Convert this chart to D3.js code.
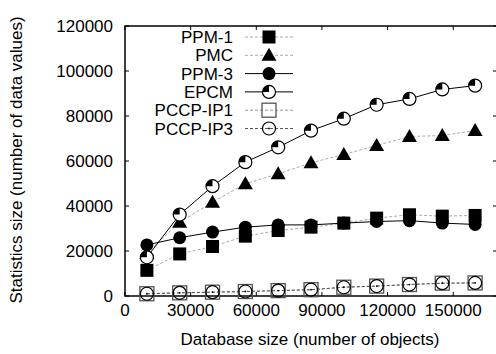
<!DOCTYPE html>
<html>
<head>
<meta charset="utf-8">
<script src="https://cdn.jsdelivr.net/npm/d3@7"></script>
<style>
  body { margin: 0; background: #fff; }
  text { font-family: "Liberation Sans", Arial, sans-serif; }
</style>
</head>
<body>
<div class="chart-container"></div>
<script>
const width = 496;
const height = 354;
const margin = { top: 26, right: -1, bottom: 58, left: 125 };

// database sizes (number of objects)
const dbSizes = [10000, 25000, 40000, 55000, 70000, 85000, 100000, 115000, 130000, 145000, 160000];

const ppm1 = [11400, 18700, 22000, 26600, 29100, 30600, 32400, 34600, 36100, 35500, 35800];
const pmc = [19000, 32800, 41700, 49900, 54300, 59200, 62900, 66900, 70900, 71300, 73600];
const ppm3 = [22700, 25900, 28400, 30600, 31600, 31600, 32400, 33100, 33500, 32400, 31800];
const epcm = [17200, 36200, 48800, 59500, 66100, 73500, 78800, 85000, 87600, 91800, 93500];
const pccpIp1 = [1000, 1400, 1700, 2000, 2400, 2800, 3900, 4400, 5100, 5700, 5800];
const pccpIp3 = [1000, 1400, 1700, 2000, 2400, 2800, 3900, 4400, 5100, 5700, 5800];

const xTicks = [0, 30000, 60000, 90000, 120000, 150000];
const yTicks = [0, 20000, 40000, 60000, 80000, 100000, 120000];

const series = [
    { name: "PPM-1", values: ppm1, marker: "square", line: "#aaa", dash: "3,2" },
    { name: "PMC", values: pmc, marker: "triangle", line: "#aaa", dash: "3,2" },
    { name: "PPM-3", values: ppm3, marker: "circle", line: "#000", dash: null },
    { name: "EPCM", values: epcm, marker: "quarter", line: "#000", dash: null },
    { name: "PCCP-IP1", values: pccpIp1, marker: "opensquare", line: "#999", dash: "3,2" },
    { name: "PCCP-IP3", values: pccpIp3, marker: "dotcircle", line: "#555", dash: "3,2" },
];

const svg = d3.select(".chart-container")
    .append("svg")
    .attr("width", width)
    .attr("height", height);

const escalaX = d3.scaleLinear()
    .domain([0, 170000])
    .range([margin.left, width - margin.right]);

const escalaY = d3.scaleLinear()
    .domain([0, 120000])
    .range([height - margin.bottom, margin.top]);

const x0 = escalaX.range()[0], x1 = escalaX.range()[1];
const y0 = escalaY.range()[0], y1 = escalaY.range()[1];

// ticks (inward, mirrored)
const ticks = svg.append("g").attr("stroke", "#000").attr("stroke-width", 1);
xTicks.forEach(t => {
    ticks.append("line").attr("x1", escalaX(t)).attr("x2", escalaX(t)).attr("y1", y0).attr("y2", y0 - 4);
    ticks.append("line").attr("x1", escalaX(t)).attr("x2", escalaX(t)).attr("y1", y1).attr("y2", y1 + 4);
});
yTicks.forEach(t => {
    ticks.append("line").attr("x1", x0).attr("x2", x0 + 4).attr("y1", escalaY(t)).attr("y2", escalaY(t));
    ticks.append("line").attr("x1", x1).attr("x2", x1 - 4).attr("y1", escalaY(t)).attr("y2", escalaY(t));
});

// box
svg.append("rect")
    .attr("x", x0).attr("y", y1)
    .attr("width", x1 - x0).attr("height", y0 - y1)
    .attr("fill", "none").attr("stroke", "#000").attr("stroke-width", 1.5);

// tick labels
svg.append("g").selectAll("text")
    .data(xTicks)
    .join("text")
    .attr("x", d => escalaX(d))
    .attr("y", 316)
    .attr("text-anchor", "middle")
    .attr("font-size", 17)
    .text(d => d);

svg.append("g").selectAll("text")
    .data(yTicks)
    .join("text")
    .attr("x", 113)
    .attr("y", d => escalaY(d) + 6)
    .attr("text-anchor", "end")
    .attr("font-size", 17)
    .text(d => d);

svg.append("text")
    .attr("x", 310).attr("y", 345)
    .attr("text-anchor", "middle")
    .attr("font-size", 17)
    .text("Database size (number of objects)");

svg.append("text")
    .attr("transform", "translate(22,160) rotate(-90)")
    .attr("text-anchor", "middle")
    .attr("font-size", 17)
    .text("Statistics size (number of data values)");

function drawMarker(g, type, cx, cy) {
    const r = 6.5;
    if (type === "square") {
        g.append("rect").attr("x", cx - 6.5).attr("y", cy - 6.5).attr("width", 13).attr("height", 13).attr("fill", "#000");
    } else if (type === "triangle") {
        g.append("path").attr("d", `M${cx},${cy - 7.5}L${cx + 7.5},${cy + 5.5}L${cx - 7.5},${cy + 5.5}Z`).attr("fill", "#000");
    } else if (type === "circle") {
        g.append("circle").attr("cx", cx).attr("cy", cy).attr("r", r).attr("fill", "#000");
    } else if (type === "quarter") {
        g.append("circle").attr("cx", cx).attr("cy", cy).attr("r", r).attr("fill", "#fff").attr("stroke", "#000").attr("stroke-width", 1.2);
        g.append("path").attr("d", `M${cx},${cy}L${cx - r},${cy}A${r},${r} 0 0 1 ${cx},${cy - r}Z`).attr("fill", "#000");
    } else if (type === "opensquare") {
        g.append("rect").attr("x", cx - 7).attr("y", cy - 7).attr("width", 14).attr("height", 14).attr("fill", "none").attr("stroke", "#555").attr("stroke-width", 1.3);
    } else if (type === "dotcircle") {
        g.append("circle").attr("cx", cx).attr("cy", cy).attr("r", r).attr("fill", "none").attr("stroke", "#000").attr("stroke-width", 1.2);
        g.append("circle").attr("cx", cx).attr("cy", cy).attr("r", 0.9).attr("fill", "#000");
    }
}

const line = d3.line()
    .x((d, i) => escalaX(dbSizes[i]))
    .y(d => escalaY(d));

const plot = svg.append("g");
series.forEach(s => {
    plot.append("path")
        .attr("d", line(s.values))
        .attr("fill", "none")
        .attr("stroke", s.line)
        .attr("stroke-width", 1)
        .attr("stroke-dasharray", s.dash);
    const mg = plot.append("g");
    s.values.forEach((v, i) => drawMarker(mg, s.marker, escalaX(dbSizes[i]), escalaY(v)));
});

// legend
const legend = svg.append("g");
series.forEach((s, i) => {
    const ly = 37 + i * 18.3;
    legend.append("text")
        .attr("x", 233).attr("y", ly + 6)
        .attr("text-anchor", "end")
        .attr("font-size", 17)
        .text(s.name);
    legend.append("line")
        .attr("x1", 245).attr("x2", 293)
        .attr("y1", ly).attr("y2", ly)
        .attr("stroke", s.line)
        .attr("stroke-width", 1)
        .attr("stroke-dasharray", s.dash);
    drawMarker(legend, s.marker, 269, ly);
});
</script>
</body>
</html>
